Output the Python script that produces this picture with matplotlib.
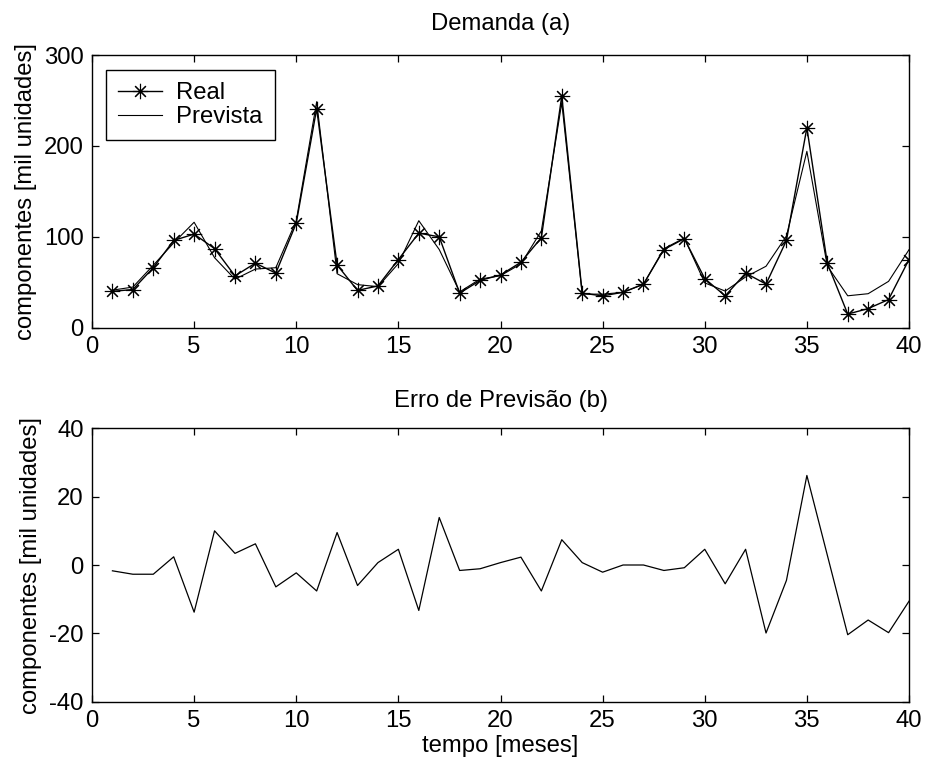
import matplotlib
matplotlib.use("Agg")
import matplotlib.pyplot as plt

# ---- data ----
meses = list(range(1, 41))
real = [40, 42, 66, 96, 103, 87, 57, 71, 60, 115, 241, 69, 41, 46, 75, 104, 100, 38, 52, 58,
        72, 99, 255, 38, 35, 39, 48, 86, 98, 54, 35, 60, 48, 96, 220, 71, 15, 21, 31, 75]
prevista = [41.3, 44.7, 68.7, 93.3, 116, 77, 53.4, 64.5, 66, 117.7, 248.6, 59.4, 47.4, 45.1,
            70.6, 117.7, 86, 39.4, 53.5, 57.2, 70.2, 106.5, 247.6, 37, 36.9, 38.9, 47.7, 87,
            98.6, 49.3, 40.3, 55.8, 67.6, 100.9, 194, 67.8, 35.1, 37.4, 51, 85.8]
erro = [-1.7, -2.7, -2.7, 2.4, -13.8, 10.0, 3.4, 6.2, -6.4, -2.3, -7.6, 9.5, -6.0, 0.7, 4.6,
        -13.3, 13.9, -1.6, -1.1, 0.7, 2.3, -7.6, 7.4, 0.7, -2.1, 0.0, 0.0, -1.6, -0.8, 4.6,
        -5.5, 4.6, -19.9, -4.5, 26.2, 2.9, -20.4, -16.1, -19.8, -10.6]
xticks = [0, 5, 10, 15, 20, 25, 30, 35, 40]
yticks_a = [0, 100, 200, 300]
yticks_b = [-40, -20, 0, 20, 40]

plt.rcParams['font.family'] = ['Liberation Sans', 'DejaVu Sans']
plt.rcParams['axes.unicode_minus'] = False
FS = 17.2

W, H = 926, 767
fig = plt.figure(figsize=(W / 100, H / 100), dpi=100)

def px_axes(l, t, r, b):
    return fig.add_axes([l / W, 1 - b / H, (r - l) / W, (b - t) / H])

ax1 = px_axes(92, 55, 909, 327.7)
ax2 = px_axes(92, 428.3, 909, 701.7)

star = (8, 2, 0)
ax1.plot(meses, real, color='black', lw=1.0, marker=star, markersize=11,
         markeredgewidth=0.8, label='Real')
ax1.plot(meses, prevista, color='black', lw=0.8, label='Prevista')
ax1.set_xlim(0, 40)
ax1.set_ylim(0, 300)
ax1.set_yticks(yticks_a)
ax1.set_title('Demanda (a)', fontsize=FS, pad=18)
ax1.set_ylabel('componentes [mil unidades]', fontsize=FS, labelpad=5)
leg = ax1.legend(loc='upper left', bbox_to_anchor=(14 / 817, 1 - 15 / 272.7),
                 borderaxespad=0, fancybox=False, edgecolor='black', fontsize=FS,
                 handlelength=1.85, handletextpad=0.6, labelspacing=0.1,
                 borderpad=0.5, framealpha=1)
leg.get_frame().set_linewidth(1.0)

ax2.plot(meses, erro, color='black', lw=0.9)
ax2.set_xlim(0, 40)
ax2.set_ylim(-40, 40)
ax2.set_yticks(yticks_b)
ax2.set_title('Erro de Previsão (b)', fontsize=FS, pad=15)
ax2.set_ylabel('componentes [mil unidades]', fontsize=FS, labelpad=5)
ax2.set_xlabel('tempo [meses]', fontsize=FS, labelpad=2)

for ax in (ax1, ax2):
    ax.set_xticks(xticks)
    ax.tick_params(direction='in', top=True, right=True, length=5, width=0.9,
                   labelsize=FS, pad=6)
    for s in ax.spines.values():
        s.set_linewidth(1.0)

fig.savefig('out.png', dpi=100, facecolor='white')
